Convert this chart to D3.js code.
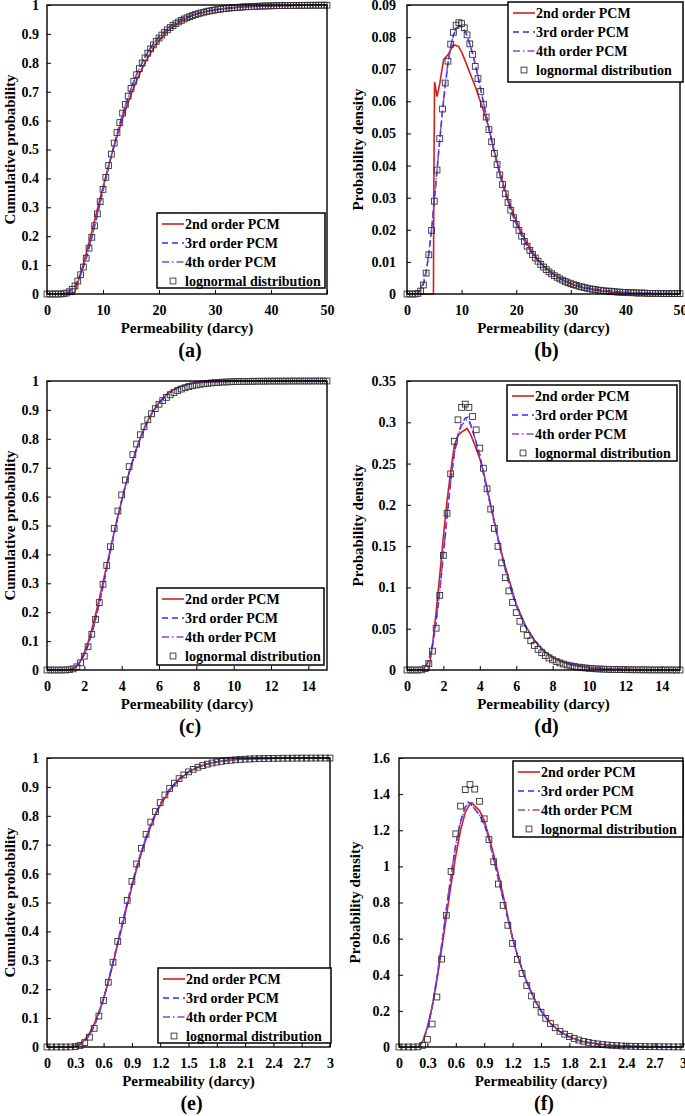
<!DOCTYPE html>
<html>
<head>
<meta charset="utf-8">
<script src="https://cdn.jsdelivr.net/npm/d3@7"></script>
<style>
body { margin: 0; background: #fff; }
svg text { font-family: "Liberation Serif", "Times New Roman", serif; font-weight: bold; fill: #000; }
.tick text { font-size: 14px; }
</style>
</head>
<body>
<svg id="chart" width="685" height="1116"></svg>
<script>
// ---- panels (a)/(b): permeability 0-50 darcy ----
let kAB = [0,0.5,1,1.5,2,2.5,3,3.5,4,4.5,5,5.5,6,6.5,7,7.5,8,8.5,9,9.5,10,10.5,11,11.5,12,12.5,13,13.5,14,14.5,15,15.5,16,16.5,17,17.5,18,18.5,19,19.5,20,20.5,21,21.5,22,22.5,23,23.5,24,24.5,25,25.5,26,26.5,27,27.5,28,28.5,29,29.5,30,30.5,31,31.5,32,32.5,33,33.5,34,34.5,35,35.5,36,36.5,37,37.5,38,38.5,39,39.5,40,40.5,41,41.5,42,42.5,43,43.5,44,44.5,45,45.5,46,46.5,47,47.5,48,48.5,49,49.5,50];
let cdfLogAB = [0,0,0,0,0,0.0003,0.0011,0.0033,0.0079,0.0159,0.028,0.0448,0.0666,0.0931,0.124,0.1586,0.1963,0.2361,0.2774,0.3195,0.3618,0.4036,0.4445,0.4841,0.5223,0.5587,0.5932,0.6258,0.6563,0.6848,0.7114,0.736,0.7588,0.7798,0.7992,0.817,0.8332,0.8482,0.8618,0.8743,0.8857,0.896,0.9055,0.9141,0.9219,0.929,0.9355,0.9414,0.9467,0.9515,0.9559,0.9599,0.9636,0.9668,0.9698,0.9725,0.975,0.9772,0.9793,0.9811,0.9828,0.9844,0.9858,0.9871,0.9881,0.9892,0.9902,0.991,0.9918,0.9925,0.9932,0.9938,0.9943,0.9948,0.9952,0.9956,0.996,0.9963,0.9966,0.9969,0.9971,0.9974,0.9976,0.9978,0.998,0.9981,0.9983,0.9984,0.9985,0.9986,0.9987,0.9988,0.9989,0.999,0.9991,0.9991,0.9992,0.9993,0.9993,0.9994,0.9994];
let pdfLogAB = [0,0,0,0,0.0002,0.0009,0.0028,0.0065,0.0122,0.0198,0.0289,0.0386,0.0484,0.0576,0.0657,0.0725,0.0778,0.0815,0.0837,0.0845,0.0842,0.0829,0.0807,0.0779,0.0746,0.0709,0.0671,0.0631,0.0591,0.0551,0.0512,0.0474,0.0438,0.0403,0.0371,0.0341,0.0312,0.0285,0.0261,0.0238,0.0217,0.0198,0.018,0.0164,0.0149,0.0136,0.0123,0.0112,0.0102,0.0092,0.0084,0.0076,0.0069,0.0063,0.0057,0.0052,0.0047,0.0043,0.0039,0.0035,0.0032,0.0029,0.0027,0.0024,0.0022,0.002,0.0018,0.0016,0.0015,0.0014,0.0012,0.0011,0.001,0.0009,0.0009,0.0008,0.0007,0.0006,0.0006,0.0005,0.0005,0.0004,0.0004,0.0004,0.0003,0.0003,0.0003,0.0003,0.0002,0.0002,0.0002,0.0002,0.0002,0.0001,0.0001,0.0001,0.0001,0.0001,0.0001,0.0001,0.0001];

let pcm2XA = [0,4.85,5.6,6.4,7.2,8,8.8,9.6,10.4,11.2,12,12.8,13.6,14.4,15.2,16,16.8,17.6,18.4,19.2,20,21.6,23.2,24.8,26.4,28,30,32,35,38,42,46,50];
let pcm2CdfA = [0,0,0.047,0.098,0.156,0.216,0.278,0.34,0.4,0.458,0.513,0.564,0.613,0.658,0.7,0.738,0.773,0.804,0.831,0.856,0.877,0.911,0.935,0.953,0.966,0.975,0.983,0.988,0.993,0.996,0.998,0.999,1];
let pcm34XA = [0,2,3,4,5,6,7,8,9,10,11,12,13,14,15,16,17,18,19,20,22,24,26,28,30,33,36,40,45,50];
let pcm3CdfA = [0,0,0.001,0.008,0.028,0.066,0.123,0.195,0.275,0.358,0.44,0.517,0.589,0.653,0.71,0.759,0.801,0.837,0.866,0.89,0.926,0.95,0.966,0.977,0.984,0.991,0.995,0.998,0.999,1];
let pcm4CdfA = [0,0.0001,0.0015,0.0085,0.0285,0.0665,0.1235,0.1955,0.2755,0.3585,0.4405,0.5175,0.5895,0.6535,0.7105,0.7595,0.8015,0.8375,0.8665,0.8905,0.9262,0.9502,0.9662,0.9772,0.9842,0.9912,0.9952,0.998,0.999,1];

let pcm2XB = [0,4.85,4.9,5.05,5.5,6,6.7,7.5,8.5,9.45,10.1,11.3,12.5,13.7,14.9,16,17,18,19,20,21,22,23,24,25,26.5,28,30,32,35,38,42,46,50];
let pcm2PdfB = [0,0,0.03,0.066,0.0615,0.0655,0.073,0.0745,0.0776,0.0771,0.075,0.0698,0.0646,0.0587,0.0523,0.0445,0.038,0.0322,0.0272,0.0228,0.019,0.0158,0.013,0.0107,0.0088,0.0066,0.0048,0.0031,0.002,0.001,0.0005,0.0002,0.0001,0];
let pcm3XB = [0,1.5,2,2.5,3,3.5,4,4.5,5,5.5,6,6.5,7,7.5,8,8.5,9,9.6,10.2,11,12,13,14,15,16,17,18,19,20,21,22,23,24,26,28,30,33,36,40,45,50];
let pcm3PdfB = [0,0,0.0003,0.0012,0.003,0.0068,0.0125,0.02,0.029,0.0385,0.048,0.057,0.065,0.0718,0.077,0.0805,0.0826,0.0835,0.083,0.0805,0.075,0.0678,0.0597,0.0516,0.044,0.0372,0.0313,0.0262,0.0219,0.0182,0.0151,0.0125,0.0103,0.007,0.0048,0.0033,0.0019,0.0011,0.0005,0.0002,0.0001];
let pcm4XB = [0,1.2,2,2.5,3,3.5,4,4.5,5,5.5,6,6.5,7,7.5,8,8.5,9,9.6,10.2,11,12,13,14,15,16,17,18,19,20,21,22,23,24,26,28,30,33,36,40,45,50];
let pcm4PdfB = [0,0,0.0008,0.0018,0.0036,0.0072,0.0128,0.0202,0.0291,0.0386,0.0481,0.0571,0.0652,0.072,0.0772,0.0807,0.0828,0.0836,0.0831,0.0806,0.0751,0.0679,0.0598,0.0516,0.044,0.0371,0.0312,0.0261,0.0218,0.0182,0.0151,0.0125,0.0103,0.007,0.0048,0.0033,0.0019,0.0011,0.0005,0.0002,0.0001];

// ---- panels (c)/(d): permeability 0-15 darcy ----
let kCD = [0,0.2,0.4,0.6,0.8,1,1.2,1.4,1.6,1.8,2,2.2,2.4,2.6,2.8,3,3.2,3.4,3.6,3.8,4,4.2,4.4,4.6,4.8,5,5.2,5.4,5.6,5.8,6,6.2,6.4,6.6,6.8,7,7.2,7.4,7.6,7.8,8,8.2,8.4,8.6,8.8,9,9.2,9.4,9.6,9.8,10,10.2,10.4,10.6,10.8,11,11.2,11.4,11.6,11.8,12,12.2,12.4,12.6,12.8,13,13.2,13.4,13.6,13.8,14,14.2,14.4,14.6,14.8,15];
let cdfLogCD = [0,0,0,0,0,0.0002,0.001,0.0039,0.011,0.0249,0.0477,0.0806,0.1235,0.1751,0.2335,0.2965,0.3616,0.4267,0.4899,0.55,0.606,0.6574,0.7037,0.7452,0.7818,0.8139,0.8418,0.8659,0.8867,0.9044,0.9195,0.9323,0.9432,0.9523,0.96,0.9665,0.972,0.9766,0.9804,0.9836,0.9863,0.9885,0.9904,0.992,0.9933,0.9944,0.9953,0.9961,0.9967,0.9972,0.9977,0.998,0.9983,0.9986,0.9988,0.999,0.9992,0.9993,0.9994,0.9995,0.9996,0.9996,0.9997,0.9997,0.9998,0.9998,0.9998,0.9999,0.9999,0.9999,0.9999,0.9999,1,1,1,1];
let pdfLogCD = [0,0,0,0,0.0002,0.0017,0.0078,0.0229,0.0506,0.0904,0.1388,0.1898,0.2375,0.277,0.303,0.318,0.322,0.318,0.307,0.2909,0.2687,0.2444,0.2195,0.1949,0.1715,0.1497,0.1297,0.1118,0.0958,0.0818,0.0695,0.059,0.0498,0.042,0.0354,0.0297,0.0249,0.0209,0.0175,0.0146,0.0123,0.0102,0.0086,0.0072,0.006,0.005,0.0042,0.0035,0.0029,0.0025,0.002,0.0017,0.0014,0.0012,0.001,0.0008,0.0007,0.0006,0.0005,0.0004,0.0004,0.0003,0.0003,0.0002,0.0002,0.0002,0.0001,0.0001,0.0001,0.0001,0.0001,0.0001,0.0001,0,0,0];

let pcm2XC = [0,1.2,1.4,1.6,1.8,2,2.2,2.4,2.6,2.8,3,3.2,3.4,3.6,3.8,4,4.2,4.5,4.8,5,5.3,5.6,6,6.5,7,7.5,8,9,10,12,15];
let pcm2CdfC = [0,0,0.003,0.013,0.032,0.06,0.096,0.14,0.191,0.246,0.303,0.361,0.42,0.477,0.533,0.587,0.637,0.705,0.767,0.803,0.85,0.888,0.926,0.96,0.978,0.988,0.994,0.998,0.9995,1,1];
let pcm34XC = [0,0.8,1,1.2,1.4,1.6,1.8,2,2.2,2.4,2.6,2.8,3,3.2,3.4,3.6,3.8,4,4.2,4.5,4.8,5,5.3,5.6,6,6.5,7,7.5,8,9,10,12,15];
let pcm3CdfC = [0,0,0.0002,0.0015,0.006,0.015,0.03,0.053,0.085,0.126,0.175,0.23,0.289,0.35,0.412,0.473,0.531,0.586,0.637,0.706,0.766,0.801,0.847,0.885,0.924,0.958,0.977,0.988,0.994,0.998,0.9995,1,1];
let pcm4CdfC = [0,0,0.0003,0.0017,0.0063,0.0154,0.0305,0.0535,0.0856,0.1265,0.1755,0.2305,0.2895,0.3505,0.4125,0.4735,0.5315,0.5865,0.6375,0.7062,0.7662,0.8012,0.8472,0.8852,0.9242,0.9582,0.9772,0.9882,0.9942,0.998,0.9995,1,1];

let pcm2XD = [0,1.2,1.4,1.6,1.8,2,2.2,2.4,2.6,2.8,3,3.2,3.3,3.5,3.7,4,4.2,4.5,4.8,5,5.3,5.6,6,6.5,7,7.5,8,8.5,9,10,11,12,13,15];
let pcm2PdfD = [0,0,0.03,0.07,0.115,0.162,0.205,0.24,0.272,0.284,0.288,0.291,0.2925,0.285,0.274,0.256,0.24,0.21,0.18,0.16,0.133,0.11,0.08,0.054,0.036,0.023,0.015,0.01,0.0065,0.0028,0.0012,0.0005,0.0002,0];
let pcm34XD = [0,0.8,1,1.2,1.4,1.6,1.8,2,2.2,2.4,2.6,2.8,3,3.2,3.35,3.5,3.7,4,4.2,4.5,4.8,5,5.3,5.6,6,6.5,7,7.5,8,8.5,9,10,11,12,13,15];
let pcm3PdfD = [0,0,0.003,0.012,0.03,0.058,0.095,0.14,0.185,0.228,0.262,0.285,0.298,0.305,0.306,0.297,0.283,0.26,0.238,0.208,0.178,0.158,0.13,0.105,0.078,0.053,0.036,0.024,0.016,0.0105,0.0068,0.003,0.0013,0.0006,0.0002,0];
let pcm4PdfD = [0,0,0.004,0.013,0.031,0.059,0.096,0.141,0.186,0.229,0.262,0.284,0.296,0.302,0.303,0.296,0.283,0.261,0.239,0.209,0.179,0.159,0.131,0.106,0.079,0.053,0.036,0.024,0.016,0.0105,0.0068,0.003,0.0013,0.0006,0.0002,0];

// ---- panels (e)/(f): permeability 0-3 darcy ----
let kEF = [0,0.05,0.1,0.15,0.2,0.25,0.3,0.35,0.4,0.45,0.5,0.55,0.6,0.65,0.7,0.75,0.8,0.85,0.9,0.95,1,1.05,1.1,1.15,1.2,1.25,1.3,1.35,1.4,1.45,1.5,1.55,1.6,1.65,1.7,1.75,1.8,1.85,1.9,1.95,2,2.05,2.1,2.15,2.2,2.25,2.3,2.35,2.4,2.45,2.5,2.55,2.6,2.65,2.7,2.75,2.8,2.85,2.9,2.95,3];
let cdfLogEF = [0,0,0,0,0,0.0002,0.0013,0.0053,0.0152,0.034,0.0644,0.107,0.1609,0.224,0.2933,0.3654,0.4376,0.5075,0.5731,0.6335,0.6879,0.7361,0.7782,0.8146,0.8457,0.8721,0.8944,0.913,0.9286,0.9414,0.952,0.9608,0.968,0.9739,0.9787,0.9827,0.9859,0.9885,0.9906,0.9924,0.9938,0.995,0.9959,0.9967,0.9972,0.9978,0.9982,0.9985,0.9988,0.999,0.9992,0.9993,0.9994,0.9995,0.9996,0.9997,0.9997,0.9998,0.9998,0.9998,0.9999];
let pdfLogEF = [0,0,0,0,0.0009,0.0092,0.0428,0.127,0.2767,0.4865,0.7294,0.9717,1.18,1.3338,1.4248,1.4532,1.4277,1.3603,1.2632,1.1485,1.0255,0.9024,0.784,0.6737,0.5737,0.4849,0.4071,0.3399,0.2824,0.2337,0.1927,0.1584,0.1301,0.1065,0.0871,0.0711,0.058,0.0472,0.0384,0.0313,0.0255,0.0207,0.0168,0.0137,0.0112,0.0091,0.0074,0.006,0.0049,0.004,0.0033,0.0027,0.0022,0.0018,0.0015,0.0012,0.001,0.0008,0.0007,0.0005,0.0004];

let pcm2XE = [0,0.2,0.3,0.35,0.4,0.45,0.5,0.55,0.6,0.65,0.7,0.75,0.8,0.85,0.9,0.95,1,1.05,1.1,1.15,1.2,1.3,1.4,1.5,1.6,1.7,1.8,2,2.2,2.5,3];
let pcm2CdfE = [0,0,0.003,0.011,0.025,0.048,0.08,0.12,0.169,0.226,0.289,0.356,0.423,0.49,0.554,0.615,0.67,0.72,0.764,0.803,0.836,0.888,0.925,0.951,0.968,0.979,0.987,0.995,0.998,0.9995,1];
let pcm34XE = [0,0.2,0.25,0.3,0.35,0.4,0.45,0.5,0.55,0.6,0.65,0.7,0.75,0.8,0.85,0.9,0.95,1,1.05,1.1,1.15,1.2,1.3,1.4,1.5,1.6,1.7,1.8,2,2.2,2.5,3];
let pcm3CdfE = [0,0,0.0003,0.002,0.008,0.02,0.041,0.072,0.114,0.166,0.227,0.294,0.362,0.431,0.498,0.562,0.622,0.677,0.726,0.77,0.808,0.841,0.892,0.928,0.953,0.969,0.98,0.987,0.995,0.998,0.9995,1];
let pcm4CdfE = [0,0.0001,0.0005,0.0024,0.0086,0.0208,0.0418,0.0728,0.1148,0.1668,0.2278,0.2948,0.3628,0.4318,0.4988,0.5628,0.6228,0.6778,0.7268,0.7708,0.8088,0.8418,0.8922,0.9282,0.9532,0.9692,0.9802,0.9872,0.9952,0.9982,0.9995,1];

let pcm2XF = [0,0.2,0.25,0.3,0.35,0.4,0.45,0.5,0.55,0.6,0.65,0.7,0.75,0.77,0.8,0.85,0.9,0.95,1,1.05,1.1,1.15,1.2,1.25,1.3,1.35,1.4,1.45,1.5,1.6,1.7,1.8,1.9,2,2.2,2.4,2.6,2.8,3];
let pcm2PdfF = [0,0,0.03,0.11,0.22,0.37,0.54,0.72,0.9,1.06,1.2,1.3,1.345,1.352,1.335,1.31,1.255,1.165,1.065,0.955,0.84,0.72,0.605,0.51,0.43,0.36,0.3,0.245,0.2,0.13,0.085,0.055,0.036,0.024,0.011,0.005,0.002,0.001,0];
let pcm34XF = [0,0.2,0.25,0.3,0.35,0.4,0.45,0.5,0.55,0.6,0.65,0.7,0.73,0.75,0.8,0.85,0.9,0.95,1,1.05,1.1,1.15,1.2,1.25,1.3,1.35,1.4,1.45,1.5,1.6,1.7,1.8,1.9,2,2.2,2.4,2.6,2.8,3];
let pcm3PdfF = [0,0,0.03,0.1,0.22,0.38,0.56,0.76,0.95,1.12,1.25,1.33,1.355,1.35,1.32,1.285,1.235,1.15,1.04,0.93,0.82,0.71,0.6,0.51,0.43,0.36,0.3,0.245,0.2,0.13,0.085,0.056,0.037,0.025,0.011,0.005,0.002,0.001,0];
let pcm4PdfF = [0,0,0.032,0.105,0.225,0.385,0.565,0.765,0.955,1.12,1.245,1.325,1.348,1.345,1.318,1.283,1.235,1.15,1.04,0.93,0.82,0.71,0.6,0.51,0.43,0.36,0.3,0.245,0.2,0.13,0.085,0.056,0.037,0.025,0.011,0.005,0.002,0.001,0];

// ---- ticks and labels ----
let xTicksAB = [0,10,20,30,40,50];
let xTicksCD = [0,2,4,6,8,10,12,14];
let xTicksEF = [0,0.3,0.6,0.9,1.2,1.5,1.8,2.1,2.4,2.7,3];
let yTicksCdf = [0,0.1,0.2,0.3,0.4,0.5,0.6,0.7,0.8,0.9,1];
let yTicksB = [0,0.01,0.02,0.03,0.04,0.05,0.06,0.07,0.08,0.09];
let yTicksD = [0,0.05,0.1,0.15,0.2,0.25,0.3,0.35];
let yTicksF = [0,0.2,0.4,0.6,0.8,1,1.2,1.4,1.6];
let legendLabels = ['2nd order PCM', '3rd order PCM', '4th order PCM', 'lognormal distribution'];

let styles = [
    {stroke: '#d41f1f', dash: null, width: 1.6},
    {stroke: '#2b2bff', dash: '6,4', width: 1.6},
    {stroke: '#8a45c8', dash: '7,3,1.5,3', width: 1.4}
];

let panels = [
    {tag: '(a)', l: 47, t: 5, r: 327, b: 294, xMax: 50, xTicks: xTicksAB, yTicks: yTicksCdf, yTitle: 'Cumulative probability', yTitleX: 10, gap: 8,
     k: kAB, sq: cdfLogAB, curves: [[pcm2XA, pcm2CdfA], [pcm34XA, pcm3CdfA], [pcm34XA, pcm4CdfA]], leg: [157, 213, 168, 75]},
    {tag: '(b)', l: 407, t: 5, r: 680, b: 294, xMax: 50, xTicks: xTicksAB, yTicks: yTicksB, yTitle: 'Probability density', yTitleX: 358, gap: 11,
     k: kAB, sq: pdfLogAB, curves: [[pcm2XB, pcm2PdfB], [pcm3XB, pcm3PdfB], [pcm4XB, pcm4PdfB]], leg: [508, 2, 175, 80]},
    {tag: '(c)', l: 47, t: 381, r: 327, b: 670, xMax: 15, xTicks: xTicksCD, yTicks: yTicksCdf, yTitle: 'Cumulative probability', yTitleX: 10, gap: 8,
     k: kCD, sq: cdfLogCD, curves: [[pcm2XC, pcm2CdfC], [pcm34XC, pcm3CdfC], [pcm34XC, pcm4CdfC]], leg: [157, 588, 167, 77]},
    {tag: '(d)', l: 407, t: 381, r: 680, b: 670, xMax: 15, xTicks: xTicksCD, yTicks: yTicksD, yTitle: 'Probability density', yTitleX: 358, gap: 11,
     k: kCD, sq: pdfLogCD, curves: [[pcm2XD, pcm2PdfD], [pcm34XD, pcm3PdfD], [pcm34XD, pcm4PdfD]], leg: [507, 385, 170, 76]},
    {tag: '(e)', l: 47, t: 758, r: 330, b: 1047, xMax: 3, xTicks: xTicksEF, yTicks: yTicksCdf, yTitle: 'Cumulative probability', yTitleX: 10, gap: 8,
     k: kEF, sq: cdfLogEF, curves: [[pcm2XE, pcm2CdfE], [pcm34XE, pcm3CdfE], [pcm34XE, pcm4CdfE]], leg: [158, 968, 173, 75]},
    {tag: '(f)', l: 399, t: 758, r: 683, b: 1047, xMax: 3, xTicks: xTicksEF, yTicks: yTicksF, yTitle: 'Probability density', yTitleX: 355, gap: 9,
     k: kEF, sq: pdfLogEF, curves: [[pcm2XF, pcm2PdfF], [pcm34XF, pcm3PdfF], [pcm34XF, pcm4PdfF]], leg: [513, 761, 170, 76]}
];

let svg = d3.select('#chart');
let sqSize = 5.8;

let drawPanel = p => {
    let g = svg.append('g');
    let xScale = d3.scaleLinear().domain([0, p.xMax]).range([p.l, p.r]);
    let yScale = d3.scaleLinear().domain([0, p.yTicks[p.yTicks.length - 1]]).range([p.b, p.t]);

    // axes, ticks pointing inward
    g.append('g')
        .attr('transform', `translate(0,${p.b})`)
        .call(d3.axisBottom(xScale).tickValues(p.xTicks).tickSize(-4).tickPadding(11).tickFormat(d => String(d)))
        .call(a => a.select('.domain').remove());
    g.append('g')
        .attr('transform', `translate(${p.l},0)`)
        .call(d3.axisLeft(yScale).tickValues(p.yTicks).tickSize(-4).tickPadding(p.gap).tickFormat(d => String(d)))
        .call(a => a.select('.domain').remove());

    let line = d3.line().x(d => xScale(d[0])).y(d => yScale(d[1]));
    p.curves.forEach((c, i) => {
        g.append('path')
            .datum(d3.zip(c[0], c[1]))
            .attr('d', line)
            .attr('fill', 'none')
            .attr('stroke', styles[i].stroke)
            .attr('stroke-width', styles[i].width)
            .attr('stroke-dasharray', styles[i].dash);
    });

    g.selectAll('rect.sq')
        .data(d3.zip(p.k, p.sq))
        .enter()
        .append('rect')
        .attr('class', 'sq')
        .attr('x', d => xScale(d[0]) - sqSize / 2)
        .attr('y', d => yScale(d[1]) - sqSize / 2)
        .attr('width', sqSize)
        .attr('height', sqSize)
        .attr('fill', 'none')
        .attr('stroke', '#333')
        .attr('stroke-width', 0.9);

    g.append('rect')
        .attr('x', p.l).attr('y', p.t)
        .attr('width', p.r - p.l).attr('height', p.b - p.t)
        .attr('fill', 'none').attr('stroke', '#000').attr('stroke-width', 1.4);

    // titles
    g.append('text')
        .attr('x', (p.l + p.r) / 2).attr('y', p.b + 39)
        .attr('text-anchor', 'middle').attr('font-size', 15)
        .text('Permeability (darcy)');
    g.append('text')
        .attr('transform', `translate(${p.yTitleX},${(p.t + p.b) / 2}) rotate(-90)`)
        .attr('dy', '0.35em')
        .attr('text-anchor', 'middle').attr('font-size', 15)
        .text(p.yTitle);
    g.append('text')
        .attr('x', (p.l + p.r) / 2 + 3).attr('y', p.b + 63)
        .attr('text-anchor', 'middle').attr('font-size', 20)
        .text(p.tag);

    // legend
    let [lx, ly, lw, lh] = p.leg;
    let lg = g.append('g');
    lg.append('rect')
        .attr('x', lx).attr('y', ly).attr('width', lw).attr('height', lh)
        .attr('fill', '#fff').attr('stroke', '#000').attr('stroke-width', 1.5);
    legendLabels.forEach((name, i) => {
        let yy = ly + 11 + i * 19;
        if (i < 3) {
            lg.append('line')
                .attr('x1', lx + 5).attr('x2', lx + 27)
                .attr('y1', yy).attr('y2', yy)
                .attr('stroke', styles[i].stroke)
                .attr('stroke-width', styles[i].width)
                .attr('stroke-dasharray', styles[i].dash);
        } else {
            lg.append('rect')
                .attr('x', lx + 16 - sqSize / 2).attr('y', yy - sqSize / 2)
                .attr('width', sqSize).attr('height', sqSize)
                .attr('fill', 'none').attr('stroke', '#333').attr('stroke-width', 0.9);
        }
        lg.append('text')
            .attr('x', lx + 28).attr('y', yy)
            .attr('dy', '0.35em').attr('font-size', 14)
            .text(name);
    });
};

panels.forEach(drawPanel);
</script>
</body>
</html>
